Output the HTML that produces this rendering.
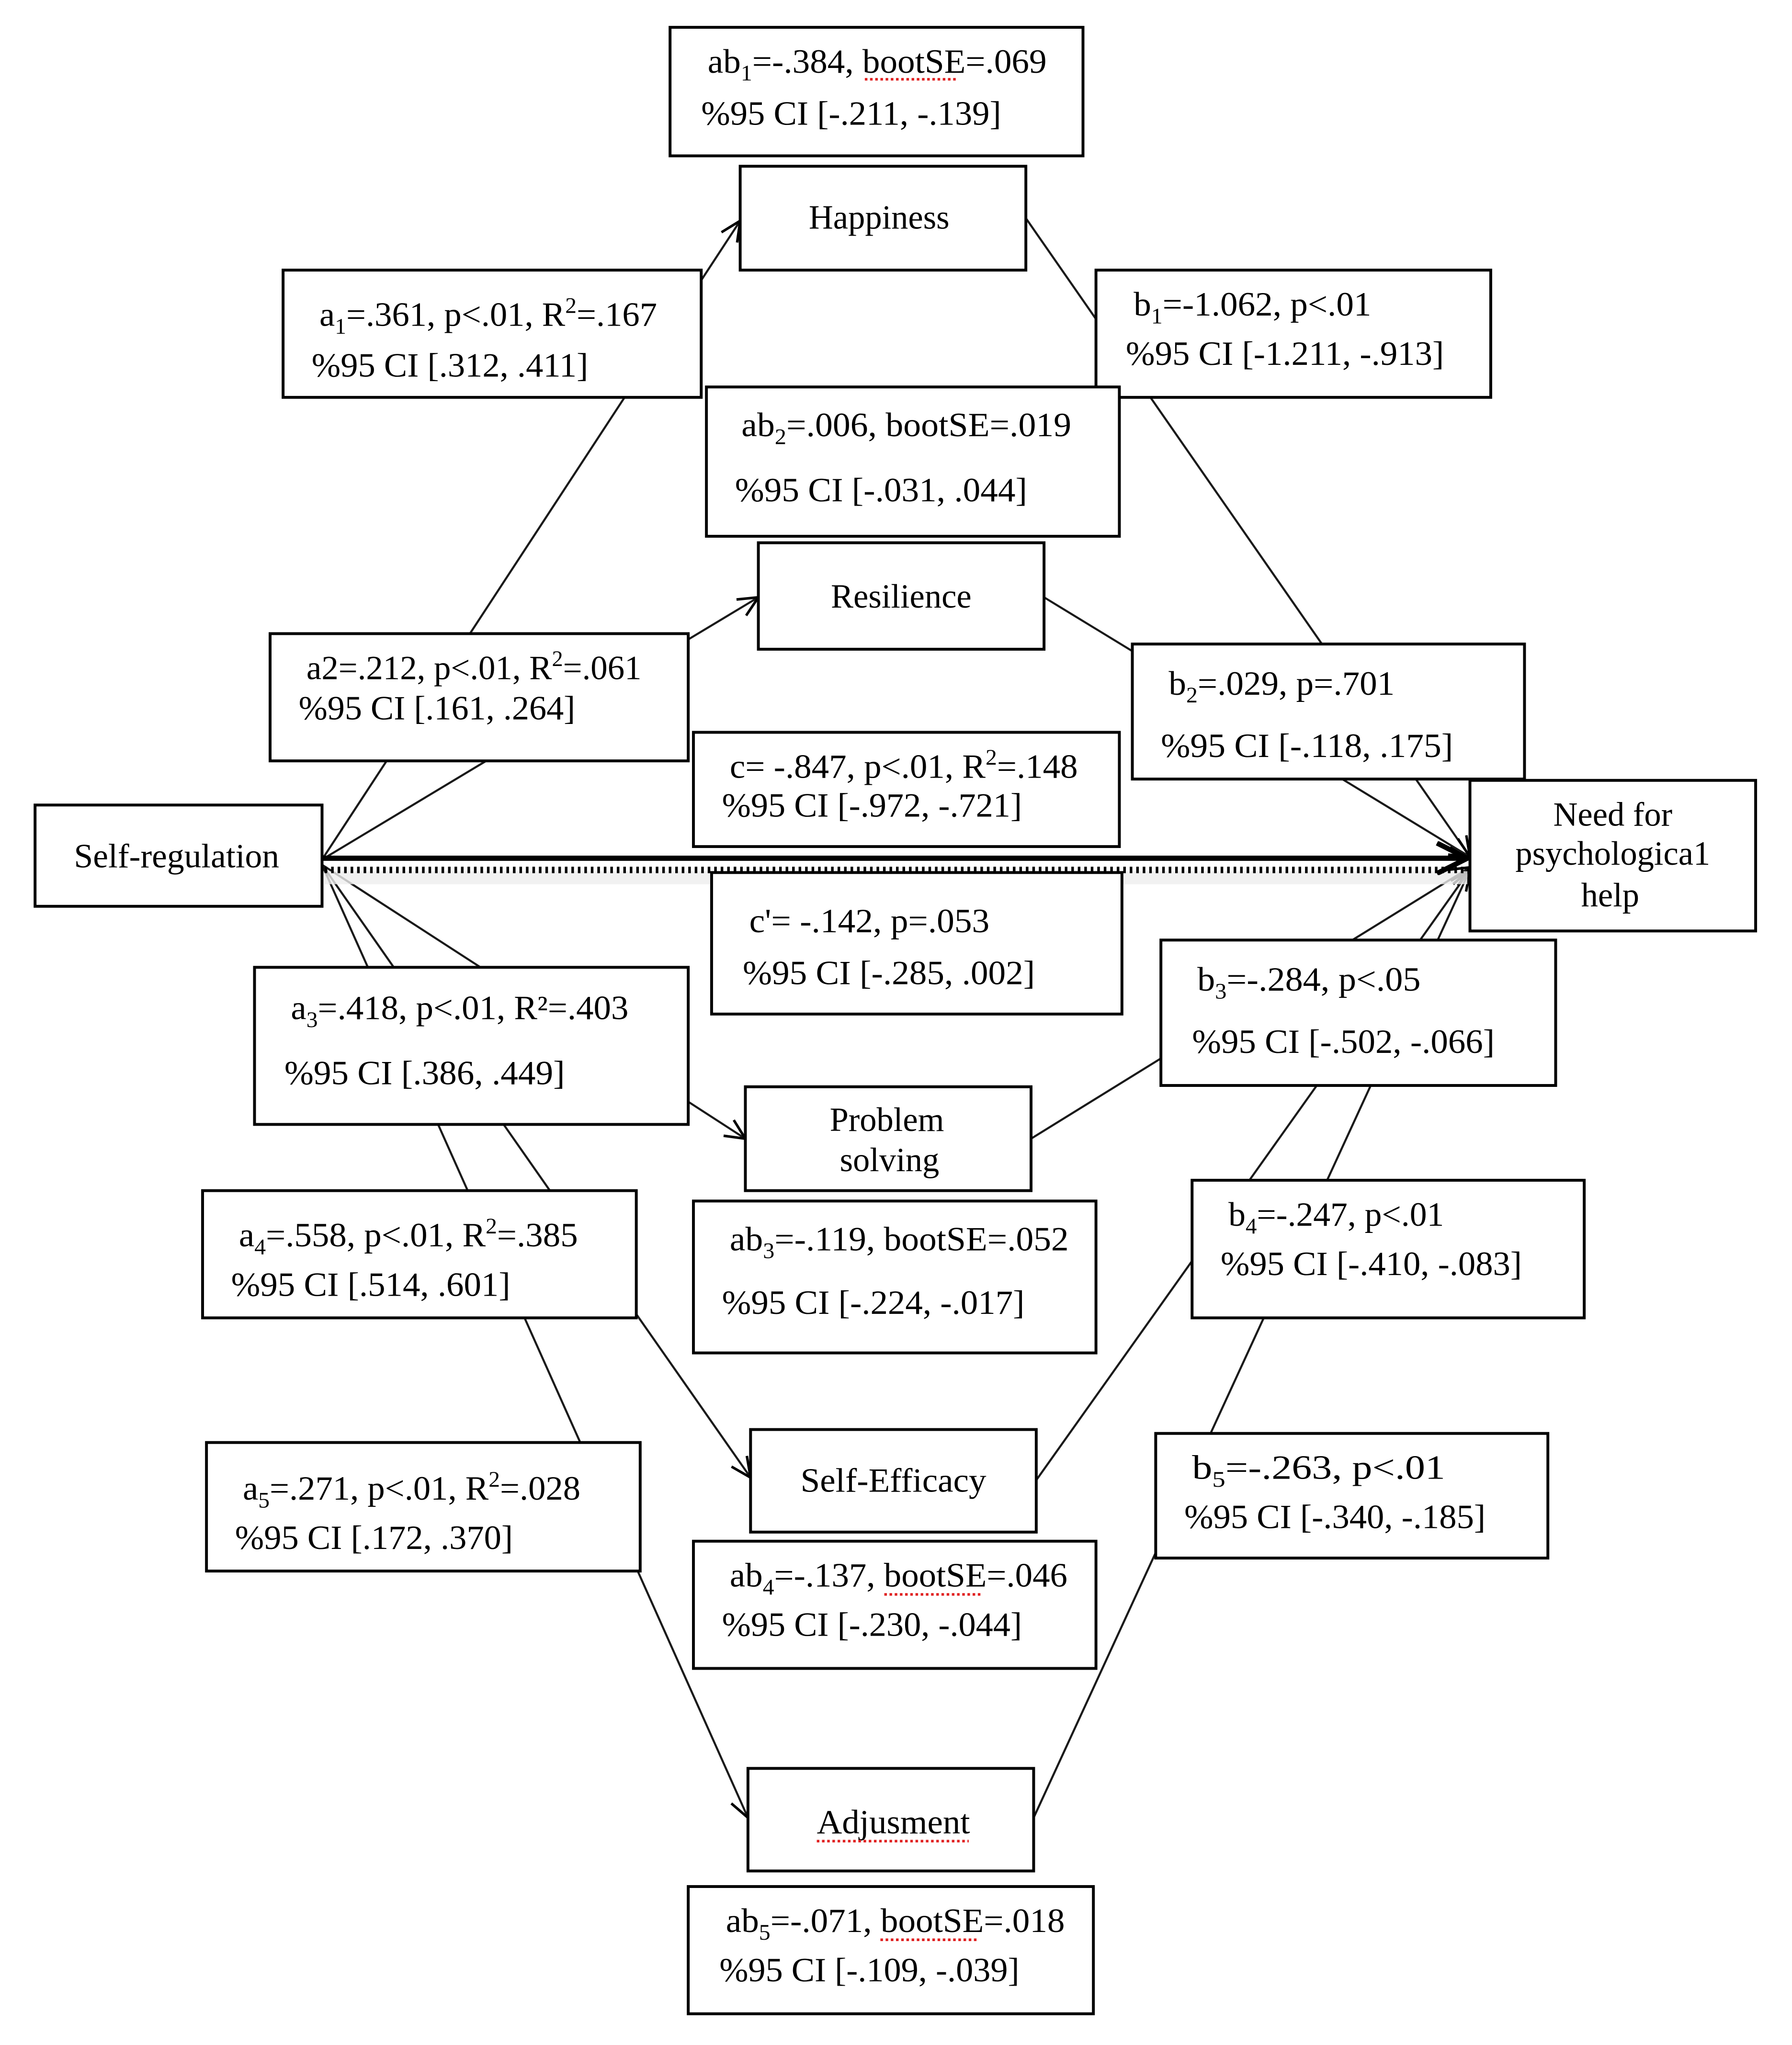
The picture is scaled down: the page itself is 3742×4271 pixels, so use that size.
<!DOCTYPE html>
<html><head><meta charset="utf-8"><style>
html,body{margin:0;padding:0;background:#fff;}
svg{display:block;}
text{font-family:"Liberation Serif",serif;font-size:26px;fill:#000;}
.b{fill:#fff;stroke:#000;stroke-width:2.2;}
.l{stroke:#1a1a1a;stroke-width:1.6;fill:none;}
.s{font-size:17px;}
.u{stroke:#e02020;stroke-width:2;stroke-dasharray:2 2;}
</style></head><body>
<svg width="3742" height="4271" viewBox="0 0 1380 1575" xmlns="http://www.w3.org/2000/svg">
<defs>
<marker id="ar" viewBox="0 0 20 20" refX="19" refY="10" markerWidth="18" markerHeight="18" markerUnits="userSpaceOnUse" orient="auto">
<path d="M2,2 L19,10 L2,18" fill="none" stroke="#000" stroke-width="2.2"/>
</marker>
<marker id="ar2" viewBox="0 0 20 20" refX="19" refY="10" markerWidth="26" markerHeight="26" markerUnits="userSpaceOnUse" orient="auto">
<path d="M1,1 L19,10 L1,19" fill="none" stroke="#000" stroke-width="3"/>
</marker>
</defs>
<rect width="1380" height="1575" fill="#fff"/>
<!-- connectors -->
<line class="l" x1="248" y1="662" x2="570" y2="170" marker-end="url(#ar)"/>
<line class="l" x1="248" y1="662" x2="584" y2="460" marker-end="url(#ar)"/>
<line class="l" x1="248" y1="666" x2="574" y2="877" marker-end="url(#ar)"/>
<line class="l" x1="248" y1="666" x2="578" y2="1138" marker-end="url(#ar)"/>
<line class="l" x1="248" y1="666" x2="576" y2="1400" marker-end="url(#ar)"/>
<line class="l" x1="790" y1="168" x2="1132" y2="660" marker-end="url(#ar)"/>
<line class="l" x1="804" y1="460" x2="1132" y2="660" marker-end="url(#ar)"/>
<line class="l" x1="794" y1="877" x2="1132" y2="668" marker-end="url(#ar)"/>
<line class="l" x1="798" y1="1140" x2="1132" y2="670" marker-end="url(#ar)"/>
<line class="l" x1="796" y1="1400" x2="1132" y2="670" marker-end="url(#ar)"/>
<rect x="250" y="671" width="880" height="10" fill="#eee" opacity="0.8"/>
<line x1="248" y1="661" x2="1130" y2="661" stroke="#000" stroke-width="4" marker-end="url(#ar2)"/>
<line x1="250" y1="670" x2="1128" y2="670" stroke="#000" stroke-width="5" stroke-dasharray="2 3"/>

<!-- boxes -->
<rect class="b" x="516" y="21" width="318" height="99"/>
<text x="545" y="56" textLength="261" lengthAdjust="spacingAndGlyphs">ab<tspan class="s" dy="6">1</tspan><tspan dy="-6">=-.384, bootSE=.069</tspan></text>
<line class="u" x1="666" y1="61" x2="737" y2="61"/>
<text x="540" y="96" textLength="231" lengthAdjust="spacingAndGlyphs">%95 CI [-.211, -.139]</text>

<rect class="b" x="570" y="128" width="220" height="80"/>
<text x="677" y="176" text-anchor="middle">Happiness</text>

<rect class="b" x="218" y="208" width="322" height="98"/>
<text x="246" y="251" textLength="260" lengthAdjust="spacingAndGlyphs">a<tspan class="s" dy="6">1</tspan><tspan dy="-6">=.361, p&lt;.01, R</tspan><tspan class="s" dy="-10">2</tspan><tspan dy="10">=.167</tspan></text>
<text x="240" y="290" textLength="213" lengthAdjust="spacingAndGlyphs">%95 CI [.312, .411]</text>

<rect class="b" x="844" y="208" width="304" height="98"/>
<text x="873" y="243" textLength="183" lengthAdjust="spacingAndGlyphs">b<tspan class="s" dy="6">1</tspan><tspan dy="-6">=-1.062, p&lt;.01</tspan></text>
<text x="867" y="281" textLength="245" lengthAdjust="spacingAndGlyphs">%95 CI [-1.211, -.913]</text>

<rect class="b" x="544" y="298" width="318" height="115"/>
<text x="571" y="336" textLength="254" lengthAdjust="spacingAndGlyphs">ab<tspan class="s" dy="6">2</tspan><tspan dy="-6">=.006, bootSE=.019</tspan></text>
<text x="566" y="386" textLength="225" lengthAdjust="spacingAndGlyphs">%95 CI [-.031, .044]</text>

<rect class="b" x="584" y="418" width="220" height="82"/>
<text x="694" y="468" text-anchor="middle">Resilience</text>

<rect class="b" x="208" y="488" width="322" height="98"/>
<text x="236" y="523" textLength="258" lengthAdjust="spacingAndGlyphs">a2=.212, p&lt;.01, R<tspan class="s" dy="-10">2</tspan><tspan dy="10">=.061</tspan></text>
<text x="230" y="554" textLength="213" lengthAdjust="spacingAndGlyphs">%95 CI [.161, .264]</text>

<rect class="b" x="872" y="496" width="302" height="104"/>
<text x="900" y="535" textLength="174" lengthAdjust="spacingAndGlyphs">b<tspan class="s" dy="6">2</tspan><tspan dy="-6">=.029, p=.701</tspan></text>
<text x="894" y="583" textLength="225" lengthAdjust="spacingAndGlyphs">%95 CI [-.118, .175]</text>

<rect class="b" x="534" y="564" width="328" height="88"/>
<text x="562" y="599" textLength="268" lengthAdjust="spacingAndGlyphs">c= -.847, p&lt;.01, R<tspan class="s" dy="-10">2</tspan><tspan dy="10">=.148</tspan></text>
<text x="556" y="629" textLength="231" lengthAdjust="spacingAndGlyphs">%95 CI [-.972, -.721]</text>

<rect class="b" x="27" y="620" width="221" height="78"/>
<text x="136" y="668" text-anchor="middle" textLength="158" lengthAdjust="spacingAndGlyphs">Self-regulation</text>

<rect class="b" x="1132" y="601" width="220" height="116"/>
<text x="1242" y="636" text-anchor="middle">Need for</text>
<text x="1242" y="666" text-anchor="middle" textLength="150" lengthAdjust="spacingAndGlyphs">psychologica1</text>
<text x="1240" y="698" text-anchor="middle">help</text>

<rect class="b" x="548" y="672" width="316" height="109"/>
<text x="577" y="718" textLength="185" lengthAdjust="spacingAndGlyphs">c'= -.142, p=.053</text>
<text x="572" y="758" textLength="225" lengthAdjust="spacingAndGlyphs">%95 CI [-.285, .002]</text>

<rect class="b" x="196" y="745" width="334" height="121"/>
<text x="224" y="785" textLength="260" lengthAdjust="spacingAndGlyphs">a<tspan class="s" dy="6">3</tspan><tspan dy="-6">=.418, p&lt;.01, R²=.403</tspan></text>
<text x="219" y="835" textLength="216" lengthAdjust="spacingAndGlyphs">%95 CI [.386, .449]</text>

<rect class="b" x="894" y="724" width="304" height="112"/>
<text x="922" y="763" textLength="172" lengthAdjust="spacingAndGlyphs">b<tspan class="s" dy="6">3</tspan><tspan dy="-6">=-.284, p&lt;.05</tspan></text>
<text x="918" y="811" textLength="233" lengthAdjust="spacingAndGlyphs">%95 CI [-.502, -.066]</text>

<rect class="b" x="574" y="837" width="220" height="80"/>
<text x="683" y="871" text-anchor="middle">Problem</text>
<text x="685" y="902" text-anchor="middle">solving</text>

<rect class="b" x="156" y="917" width="334" height="98"/>
<text x="184" y="960" textLength="261" lengthAdjust="spacingAndGlyphs">a<tspan class="s" dy="6">4</tspan><tspan dy="-6">=.558, p&lt;.01, R</tspan><tspan class="s" dy="-10">2</tspan><tspan dy="10">=.385</tspan></text>
<text x="178" y="998" textLength="215" lengthAdjust="spacingAndGlyphs">%95 CI [.514, .601]</text>

<rect class="b" x="534" y="925" width="310" height="117"/>
<text x="562" y="963" textLength="261" lengthAdjust="spacingAndGlyphs">ab<tspan class="s" dy="6">3</tspan><tspan dy="-6">=-.119, bootSE=.052</tspan></text>
<text x="556" y="1012" textLength="233" lengthAdjust="spacingAndGlyphs">%95 CI [-.224, -.017]</text>

<rect class="b" x="918" y="909" width="302" height="106"/>
<text x="946" y="944" textLength="166" lengthAdjust="spacingAndGlyphs">b<tspan class="s" dy="6">4</tspan><tspan dy="-6">=-.247, p&lt;.01</tspan></text>
<text x="940" y="982" textLength="232" lengthAdjust="spacingAndGlyphs">%95 CI [-.410, -.083]</text>

<rect class="b" x="578" y="1101" width="220" height="79"/>
<text x="688" y="1149" text-anchor="middle" textLength="143" lengthAdjust="spacingAndGlyphs">Self-Efficacy</text>

<rect class="b" x="159" y="1111" width="334" height="99"/>
<text x="187" y="1155" textLength="260" lengthAdjust="spacingAndGlyphs">a<tspan class="s" dy="6">5</tspan><tspan dy="-6">=.271, p&lt;.01, R</tspan><tspan class="s" dy="-10">2</tspan><tspan dy="10">=.028</tspan></text>
<text x="181" y="1193" textLength="214" lengthAdjust="spacingAndGlyphs">%95 CI [.172, .370]</text>

<rect class="b" x="890" y="1104" width="302" height="96"/>
<text x="918" y="1139" textLength="195" lengthAdjust="spacingAndGlyphs">b<tspan class="s" dy="6">5</tspan><tspan dy="-6">=-.263, p&lt;.01</tspan></text>
<text x="912" y="1177" textLength="232" lengthAdjust="spacingAndGlyphs">%95 CI [-.340, -.185]</text>

<rect class="b" x="534" y="1187" width="310" height="98"/>
<text x="562" y="1222" textLength="260" lengthAdjust="spacingAndGlyphs">ab<tspan class="s" dy="6">4</tspan><tspan dy="-6">=-.137, bootSE=.046</tspan></text>
<line class="u" x1="681" y1="1228" x2="755" y2="1228"/>
<text x="556" y="1260" textLength="231" lengthAdjust="spacingAndGlyphs">%95 CI [-.230, -.044]</text>

<rect class="b" x="576" y="1362" width="220" height="79"/>
<text x="688" y="1412" text-anchor="middle" textLength="118" lengthAdjust="spacingAndGlyphs">Adjusment</text>
<line class="u" x1="629" y1="1418" x2="746" y2="1418"/>

<rect class="b" x="530" y="1453" width="312" height="98"/>
<text x="559" y="1488" textLength="261" lengthAdjust="spacingAndGlyphs">ab<tspan class="s" dy="6">5</tspan><tspan dy="-6">=-.071, bootSE=.018</tspan></text>
<line class="u" x1="678" y1="1494" x2="752" y2="1494"/>
<text x="554" y="1526" textLength="231" lengthAdjust="spacingAndGlyphs">%95 CI [-.109, -.039]</text>
</svg>
</body></html>
